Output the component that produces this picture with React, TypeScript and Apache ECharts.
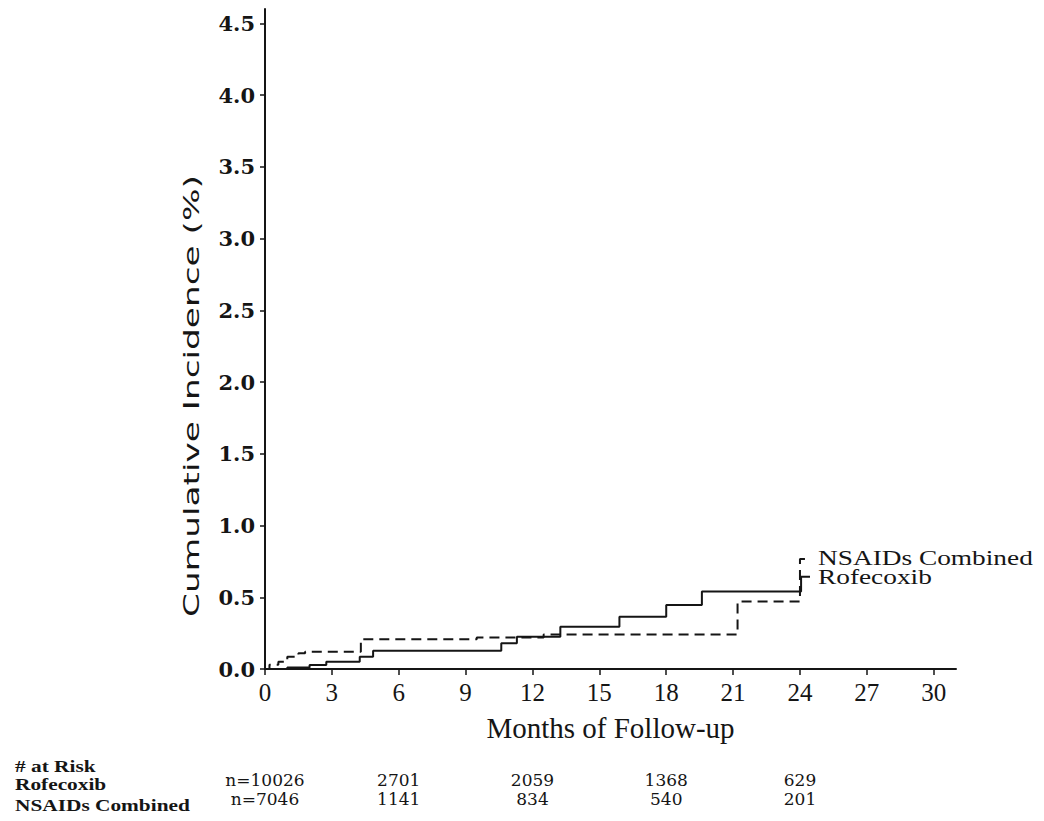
import React, { useEffect, useRef } from "react";
import * as echarts from "echarts";

// ---- data ----
const monthTicks = [0, 3, 6, 9, 12, 15, 18, 21, 24, 27, 30];
const incidenceTicks = [0, 0.5, 1, 1.5, 2, 2.5, 3, 3.5, 4, 4.5];

const rofecoxibMonths = [0, 1.0, 2.0, 2.75, 4.25, 4.85, 10.6, 11.3, 13.25, 15.9, 18.0, 19.6, 24.05, 24.45];
const rofecoxibIncidence = [0, 0.01, 0.028, 0.05, 0.086, 0.128, 0.18, 0.225, 0.295, 0.364, 0.446, 0.54, 0.643, 0.643];

const nsaidsMonths = [0, 0.2, 0.6, 1.0, 1.5, 1.8, 4.3, 9.5, 12.5, 21.2, 24.0, 24.45];
const nsaidsIncidence = [0, 0.03, 0.05, 0.086, 0.11, 0.12, 0.207, 0.22, 0.24, 0.47, 0.767, 0.767];

const riskMonths = [0, 6, 12, 18, 24];
const riskRofecoxib = ["n=10026", "2701", "2059", "1368", "629"];
const riskNsaids = ["n=7046", "1141", "834", "540", "201"];

const rowLabels = ["# at Risk", "Rofecoxib", "NSAIDs Combined"];
const yTitle = "Cumulative Incidence (%)";

const INK = "#151515";

function measure(text: string, font: string): number {
  const c = document.createElement("canvas").getContext("2d");
  if (!c) return text.length * 10;
  c.font = font;
  return c.measureText(text).width;
}

export default function App() {
  const ref = useRef<HTMLDivElement>(null);

  useEffect(() => {
    if (!ref.current) return;
    const chart = echarts.init(ref.current, null, { renderer: "svg" });

    const titleFont = "21px 'DejaVu Sans'";
    const titleScale = 442 / measure(yTitle, titleFont);

    const rowFont = "bold 17px 'Liberation Serif'";
    const rowScale = 175 / measure("NSAIDs Combined", rowFont);

    const endFont = "20px 'Liberation Serif'";
    const endScale = 215 / measure("NSAIDs Combined", endFont);

    const riskAxis = (offset: number, values: string[]) => ({
      type: "value",
      gridIndex: 0,
      position: "bottom",
      offset,
      min: 0,
      max: 31,
      axisLine: { show: false },
      axisTick: { show: false },
      splitLine: { show: false },
      axisLabel: {
        customValues: riskMonths,
        margin: 8,
        fontFamily: "'DejaVu Serif'",
        fontSize: 17,
        color: INK,
        formatter: (v: number) => {
          const i = riskMonths.indexOf(v);
          return i >= 0 ? values[i] : "";
        },
      },
    });

    const rofecoxibData = rofecoxibMonths.map((m, i) => [m, rofecoxibIncidence[i]]);
    const nsaidsData = nsaidsMonths.map((m, i) => [m, nsaidsIncidence[i]]);

    const option: any = {
      animation: false,
      backgroundColor: "#ffffff",
      grid: { left: 265, right: 88, top: 9, bottom: 152, containLabel: false, outerBoundsMode: "none" },
      xAxis: [
        {
          type: "value",
          min: 0,
          max: 31,
          interval: 3,
          axisLine: { show: true, onZero: false, lineStyle: { color: INK, width: 2 } },
          axisTick: { show: true, customValues: monthTicks, length: 6, lineStyle: { color: INK, width: 1.5 } },
          splitLine: { show: false },
          axisLabel: {
            customValues: monthTicks,
            margin: 11,
            fontFamily: "'Liberation Serif'",
            fontSize: 25,
            color: INK,
            formatter: (v: number) => (v % 3 === 0 && v <= 30 ? String(v) : ""),
          },
          name: "Months of Follow-up",
          nameLocation: "middle",
          nameGap: 44,
          nameTextStyle: { fontFamily: "'Liberation Serif'", fontSize: 29, color: INK },
        },
        riskAxis(94, riskRofecoxib),
        riskAxis(113, riskNsaids),
      ],
      yAxis: {
        type: "value",
        min: 0,
        max: 4.6,
        interval: 0.5,
        axisLine: { show: true, onZero: false, lineStyle: { color: INK, width: 2 } },
        axisTick: { show: true, customValues: incidenceTicks, length: 5, lineStyle: { color: INK, width: 1.5 } },
        splitLine: { show: false },
        axisLabel: {
          customValues: incidenceTicks,
          margin: 10,
          fontFamily: "'DejaVu Serif'",
          fontWeight: "bold",
          fontSize: 21,
          color: INK,
          formatter: (v: number) => (v <= 4.5 + 1e-9 ? v.toFixed(1) : ""),
        },
      },
      series: [
        {
          name: "Rofecoxib",
          type: "line",
          step: "end",
          silent: true,
          symbol: "none",
          data: rofecoxibData,
          lineStyle: { color: INK, width: 2, type: "solid" },
        },
        {
          name: "NSAIDs Combined",
          type: "line",
          step: "end",
          silent: true,
          symbol: "none",
          data: nsaidsData,
          lineStyle: { color: INK, width: 2, type: [10, 6] },
        },
      ],
    };

    chart.setOption(option);

    const nsEnd = chart.convertToPixel({ xAxisIndex: 0, yAxisIndex: 0 }, nsaidsData[nsaidsData.length - 1]) as number[];
    const roEnd = chart.convertToPixel({ xAxisIndex: 0, yAxisIndex: 0 }, rofecoxibData[rofecoxibData.length - 1]) as number[];

    chart.setOption({
      graphic: [
        {
          type: "text",
          x: 192,
          y: 396,
          rotation: Math.PI / 2,
          scaleX: titleScale,
          style: { text: yTitle, font: titleFont, fill: INK, align: "center", verticalAlign: "middle" },
        },
        {
          type: "text",
          x: nsEnd[0] + 8,
          y: nsEnd[1] - 1,
          scaleX: endScale,
          style: { text: "NSAIDs Combined", font: endFont, fill: INK, align: "left", verticalAlign: "middle" },
        },
        {
          type: "text",
          x: roEnd[0] + 8,
          y: roEnd[1] + 1,
          scaleX: endScale,
          style: { text: "Rofecoxib", font: endFont, fill: INK, align: "left", verticalAlign: "middle" },
        },
        ...rowLabels.map((t, i) => ({
          type: "text",
          x: 15,
          y: [766, 784, 805][i],
          scaleX: rowScale,
          style: { text: t, font: rowFont, fill: INK, align: "left", verticalAlign: "middle" },
        })),
      ],
    });

    return () => chart.dispose();
  }, []);

  return (
    <div
      ref={ref}
      style={{ position: "absolute", left: 0, top: 0, width: 1044, height: 821, background: "#fff" }}
    />
  );
}
